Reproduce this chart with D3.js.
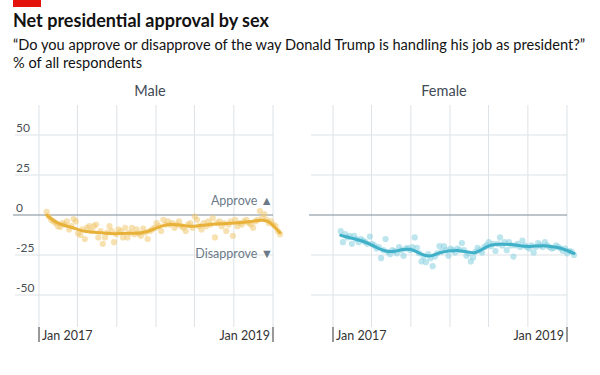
<!DOCTYPE html>
<html>
<head>
<meta charset="utf-8">
<script src="https://cdn.jsdelivr.net/npm/d3@7"></script>
<style>
  body { margin: 0; background: #fff; }
  svg { display: block; font-family: Lato, "Open Sans", sans-serif; }
</style>
</head>
<body>
<div id="chart"></div>
<script>
// weekly poll results, net approval (approve minus disapprove)
const maleValues = [2, -1, -3, -4, -5, -7, -7.5, -5, -6, -4, -9, -7, -2.5, -4, -11.5, -12.5, -9, -15, -8, -7,
  -10, -7, -6, -14, -10, -18, -14, -11, -7, -10, -17, -12, -9, -10, -14, -8, -14, -11, -8, -12,
  -9, -11.5, -13, -8.5, -11, -15, -10, -9, -8, -5, -7, -10, -3, -6, -4, -6, -5, -8, -6, -4,
  -7, -8, -10, -6, -5, -8, -1, -3, -7, -9, -5, -7, -4, -6, -2, -14, -5, -4, -7, -5,
  -10, -6, -4, -13, -3, -7, -5, -6, -4, -3, -5, -6, -8, -4, -3, 2.5, -2, 0.5, -3, -5,
  -4, -6, -7, -10, -12];
const femaleValues = [-10, -17, -12, -14, -13, -18, -13, -15, -17, -15, -16, -17, -18, -13.5, -18, -19, -21, -20, -27, -22,
  -15, -23, -24.5, -22, -22.5, -24, -20, -22, -25.5, -21, -20.5, -22, -20, -14, -20.5, -24, -29, -26, -29.5, -24.5,
  -27, -32, -26, -24, -19.5, -23, -19.5, -22, -25.5, -21, -22, -23.5, -21, -22, -17.5, -22, -25.5, -24, -29, -26.5,
  -23, -20.5, -22, -23.5, -20, -19, -17, -19.5, -18, -22.5, -18, -14, -19, -17, -22, -17, -19, -26, -19, -18,
  -20, -16, -19, -20, -21, -19, -23.5, -20, -17.5, -19, -20, -17, -19, -20, -21, -20.5, -19, -20, -21, -22.5,
  -21, -24, -22.5, -23, -25];

// smoothed trend, read at every fourth week (plus the last few weeks)
const trendWeeks = [0, 4, 8, 12, 16, 20, 24, 28, 32, 36, 40, 44, 48, 52, 56, 60, 64, 68, 72, 76, 80, 84, 88, 92, 96, 98, 100, 102, 104];
const maleTrend = [0, -4.8, -6.6, -8, -10.2, -10.6, -11, -11.7, -11.7, -11.3, -11.6, -10.8, -8.7, -6.3, -5.8, -6.4, -7.3, -6.6, -6, -5.6,
  -5.3, -5, -4.7, -3.8, -3.1, -3.5, -5.2, -8.2, -11];
const femaleTrend = [-12.7, -14.2, -15.6, -17.3, -20.4, -22.9, -23, -21.3, -21.3, -24.7, -26.3, -23.4, -22.4, -21.9, -23, -24.2, -20.5, -18.1, -18.3, -18.3,
  -19.4, -19.8, -19.3, -19.1, -20.2, -20.7, -21.7, -22.8, -24];

const firstWeek = new Date(2017, 0, 25);
const yTicks = [50, 25, 0, -25, -50];
const gridDates = [new Date(2017, 0, 1), new Date(2017, 4, 1), new Date(2017, 8, 1), new Date(2018, 0, 1),
  new Date(2018, 4, 1), new Date(2018, 8, 1), new Date(2019, 0, 1)];
const xLabels = [{date: new Date(2017, 0, 1), text: "Jan 2017"}, {date: new Date(2019, 0, 1), text: "Jan 2019"}];

const panels = [
  {name: "Male", values: maleValues, trend: maleTrend, left: 39, gridLeft: 15, line: "#e8b13a", dot: "#f0c96f", showY: true},
  {name: "Female", values: femaleValues, trend: femaleTrend, left: 333, gridLeft: 311, line: "#3fb0c8", dot: "#86cfe0", showY: false}
];

function drawChart() {
  const width = 600, height = 375;
  const svg = d3.select("#chart").append("svg")
    .attr("width", width)
    .attr("height", height);

  svg.append("rect").attr("x", 13).attr("y", 0).attr("width", 28).attr("height", 7).attr("fill", "#e3120b");

  svg.append("text").attr("x", 13).attr("y", 27)
    .attr("font-size", 18).attr("font-weight", 700).attr("fill", "#121212")
    .text("Net presidential approval by sex");
  svg.append("text").attr("x", 13).attr("y", 50)
    .attr("font-size", 14.6).attr("fill", "#121212")
    .text("\u201cDo you approve or disapprove of the way Donald Trump is handling his job as president?\u201d");
  svg.append("text").attr("x", 13).attr("y", 68)
    .attr("font-size", 14.6).attr("fill", "#121212")
    .text("% of all respondents");

  const yScale = d3.scaleLinear().domain([-70, 68.75]).range([327, 105]);
  const weekDate = i => d3.timeDay.offset(firstWeek, i * 7);

  panels.forEach(p => {
    const xScale = d3.scaleTime()
      .domain([new Date(2017, 0, 1), new Date(2019, 0, 1)])
      .range([p.left, p.left + 234]);
    const right = xScale(new Date(2019, 0, 1));
    const g = svg.append("g");

    g.append("text")
      .attr("x", (p.left + right) / 2 - 6).attr("y", 96)
      .attr("text-anchor", "middle").attr("font-size", 14.5).attr("fill", "#3f4a55")
      .text(p.name);

    // vertical grid
    g.selectAll(".vgrid").data(gridDates).join("line")
      .attr("x1", d => xScale(d)).attr("x2", d => xScale(d))
      .attr("y1", yScale.range()[1]).attr("y2", yScale.range()[0])
      .attr("stroke", "#dde2e6").attr("stroke-width", 1);

    // horizontal grid
    g.selectAll(".hgrid").data(yTicks.filter(d => d !== 0)).join("line")
      .attr("x1", p.gridLeft).attr("x2", right)
      .attr("y1", d => yScale(d)).attr("y2", d => yScale(d))
      .attr("stroke", "#dde2e6").attr("stroke-width", 1);

    g.append("line")
      .attr("x1", p.gridLeft - 2).attr("x2", right)
      .attr("y1", yScale(0)).attr("y2", yScale(0))
      .attr("stroke", "#7f8b96").attr("stroke-width", 1.2);

    if (p.showY) {
      g.selectAll(".ylab").data(yTicks).join("text")
        .attr("x", 16).attr("y", d => yScale(d) - 3.5)
        .attr("font-size", 12).attr("fill", "#4a4f55")
        .text(d => d);
      g.append("text").attr("x", right).attr("y", 205)
        .attr("text-anchor", "end").attr("font-size", 12.5).attr("fill", "#6b7a88")
        .text("Approve \u25B2");
      g.append("text").attr("x", right).attr("y", 258)
        .attr("text-anchor", "end").attr("font-size", 12.5).attr("fill", "#6b7a88")
        .text("Disapprove \u25BC");
    }

    // x labels with end ticks
    g.selectAll(".xtick").data(xLabels).join("line")
      .attr("x1", d => xScale(d.date)).attr("x2", d => xScale(d.date))
      .attr("y1", 327).attr("y2", 342)
      .attr("stroke", "#333").attr("stroke-width", 1);
    g.selectAll(".xlab").data(xLabels).join("text")
      .attr("x", (d, i) => xScale(d.date) + (i === 0 ? 3 : -3))
      .attr("y", 340)
      .attr("text-anchor", (d, i) => i === 0 ? "start" : "end")
      .attr("font-size", 12.5).attr("fill", "#333")
      .text(d => d.text);

    // dots
    g.selectAll(".dot").data(p.values).join("circle")
      .attr("cx", (d, i) => xScale(weekDate(i)))
      .attr("cy", d => yScale(d))
      .attr("r", 3.1)
      .attr("fill", p.dot)
      .attr("opacity", 0.55);

    const lineGenerator = d3.line()
      .x((d, i) => xScale(weekDate(trendWeeks[i])))
      .y(d => yScale(d))
      .curve(d3.curveBasis);

    g.append("path")
      .attr("d", lineGenerator(p.trend))
      .attr("fill", "none")
      .attr("stroke", p.line)
      .attr("stroke-width", 3)
      .attr("stroke-linecap", "round");
  });
}

drawChart();
</script>
</body>
</html>
